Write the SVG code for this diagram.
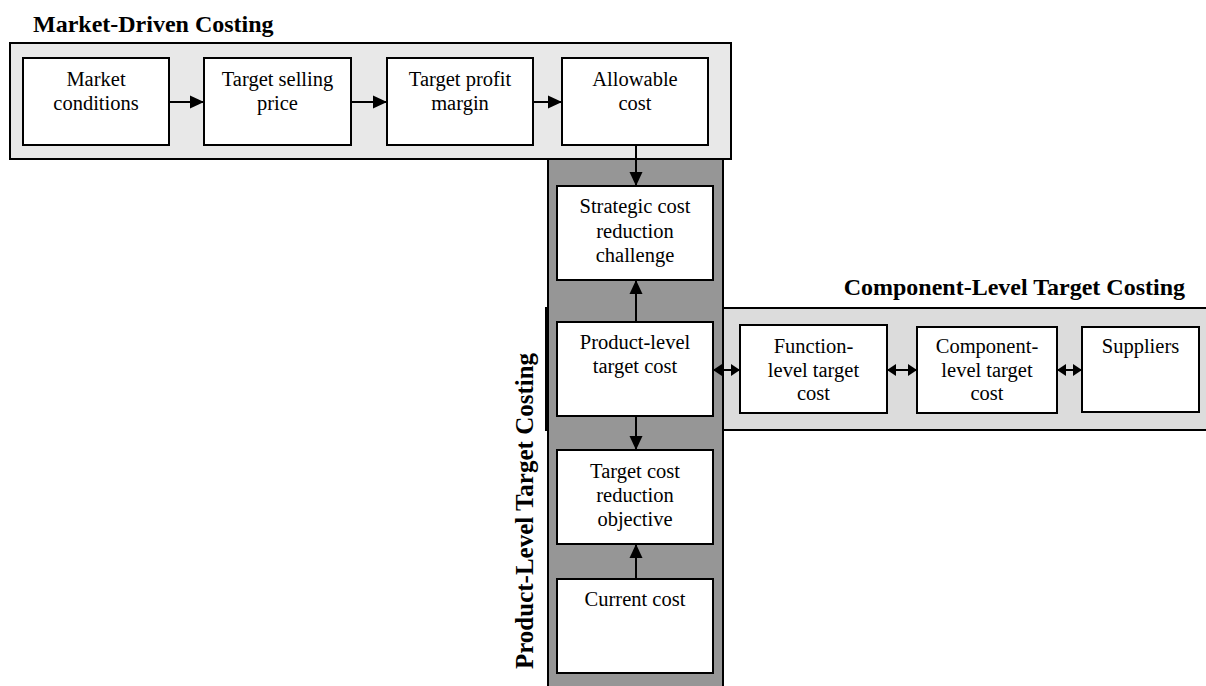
<svg xmlns="http://www.w3.org/2000/svg" width="1206" height="686" viewBox="0 0 1206 686">
  <style>
    .box { fill: #ffffff; stroke: #000000; stroke-width: 2; }
    .t { font-family: "Liberation Serif", "Times New Roman", serif; font-size: 20.5px; fill: #000; text-anchor: middle; }
    .title { font-family: "Liberation Serif", "Times New Roman", serif; font-size: 24px; font-weight: bold; fill: #000; }
    .conn { stroke: #000; stroke-width: 2; fill: none; }
  </style>
  <defs>
    <marker id="arr" markerUnits="userSpaceOnUse" markerWidth="14" markerHeight="14" viewBox="0 0 14 14" refX="14" refY="7" orient="auto">
      <path d="M0,0.5 L14,7 L0,13.5 Z" fill="#000"/>
    </marker>
    <marker id="sarr" markerUnits="userSpaceOnUse" markerWidth="9" markerHeight="13" viewBox="0 0 9 13" refX="9" refY="6.5" orient="auto-start-reverse">
      <path d="M0,0.5 L9,6.5 L0,12.5 Z" fill="#000"/>
    </marker>
  </defs>

  <rect width="1206" height="686" fill="#ffffff"/>

  <!-- Bands -->
  <g id="band-component">
    <rect x="546" y="308" width="700" height="122" fill="#dcdcdc" stroke="#000" stroke-width="2"/>
    <text class="title" x="1185" y="295" text-anchor="end">Component-Level Target Costing</text>
  </g>
  <g id="band-product">
    <rect x="548" y="159" width="175" height="540" fill="#969696" stroke="#000" stroke-width="2"/>
    <text class="title" transform="translate(533,511) rotate(-90)" text-anchor="middle" style="font-size:25px">Product-Level Target Costing</text>
  </g>
  <g id="band-market">
    <rect x="10" y="43" width="721" height="116" fill="#e8e8e8" stroke="#000" stroke-width="2"/>
    <text class="title" x="33" y="32">Market-Driven Costing</text>
  </g>

  <!-- Connectors -->
  <g id="connectors">
    <line class="conn" x1="169" y1="102" x2="204" y2="102" marker-end="url(#arr)"/>
    <line class="conn" x1="351" y1="102" x2="387" y2="102" marker-end="url(#arr)"/>
    <line class="conn" x1="533" y1="102" x2="562" y2="102" marker-end="url(#arr)"/>
    <line class="conn" x1="636" y1="145" x2="636" y2="186" marker-end="url(#arr)"/>
    <line class="conn" x1="636" y1="322" x2="636" y2="280" marker-end="url(#arr)"/>
    <line class="conn" x1="636" y1="416" x2="636" y2="450" marker-end="url(#arr)"/>
    <line class="conn" x1="636" y1="579" x2="636" y2="544" marker-end="url(#arr)"/>
    <line class="conn" x1="713" y1="370" x2="740" y2="370" marker-start="url(#sarr)" marker-end="url(#sarr)"/>
    <line class="conn" x1="887" y1="370" x2="917" y2="370" marker-start="url(#sarr)" marker-end="url(#sarr)"/>
    <line class="conn" x1="1057" y1="370" x2="1082" y2="370" marker-start="url(#sarr)" marker-end="url(#sarr)"/>
  </g>

  <!-- Market-driven nodes -->
  <g id="market-conditions">
    <rect class="box" x="23" y="58" width="146" height="87"/>
    <text class="t" x="96" y="86">Market</text>
    <text class="t" x="96" y="110">conditions</text>
  </g>
  <g id="target-selling-price">
    <rect class="box" x="204" y="58" width="147" height="87"/>
    <text class="t" x="277.5" y="86">Target selling</text>
    <text class="t" x="277.5" y="110">price</text>
  </g>
  <g id="target-profit-margin">
    <rect class="box" x="387" y="58" width="146" height="87"/>
    <text class="t" x="460" y="86">Target profit</text>
    <text class="t" x="460" y="110">margin</text>
  </g>
  <g id="allowable-cost">
    <rect class="box" x="562" y="58" width="146" height="87"/>
    <text class="t" x="635" y="86">Allowable</text>
    <text class="t" x="635" y="110">cost</text>
  </g>

  <!-- Product-level nodes -->
  <g id="strategic-cost-reduction-challenge">
    <rect class="box" x="557" y="186" width="156" height="94"/>
    <text class="t" x="635" y="213">Strategic cost</text>
    <text class="t" x="635" y="238">reduction</text>
    <text class="t" x="635" y="262">challenge</text>
  </g>
  <g id="product-level-target-cost">
    <rect class="box" x="557" y="322" width="156" height="94"/>
    <text class="t" x="635" y="349">Product-level</text>
    <text class="t" x="635" y="373">target cost</text>
  </g>
  <g id="target-cost-reduction-objective">
    <rect class="box" x="557" y="450" width="156" height="94"/>
    <text class="t" x="635" y="478">Target cost</text>
    <text class="t" x="635" y="502">reduction</text>
    <text class="t" x="635" y="526">objective</text>
  </g>
  <g id="current-cost">
    <rect class="box" x="557" y="579" width="156" height="94"/>
    <text class="t" x="635" y="606">Current cost</text>
  </g>

  <!-- Component-level nodes -->
  <g id="function-level-target-cost">
    <rect class="box" x="740" y="325" width="147" height="88"/>
    <text class="t" x="813.5" y="353">Function-</text>
    <text class="t" x="813.5" y="377">level target</text>
    <text class="t" x="813.5" y="400">cost</text>
  </g>
  <g id="component-level-target-cost">
    <rect class="box" x="917" y="327" width="140" height="86"/>
    <text class="t" x="987" y="353">Component-</text>
    <text class="t" x="987" y="377">level target</text>
    <text class="t" x="987" y="400">cost</text>
  </g>
  <g id="suppliers">
    <rect class="box" x="1082" y="327" width="117" height="85"/>
    <text class="t" x="1140.5" y="353">Suppliers</text>
  </g>
</svg>
